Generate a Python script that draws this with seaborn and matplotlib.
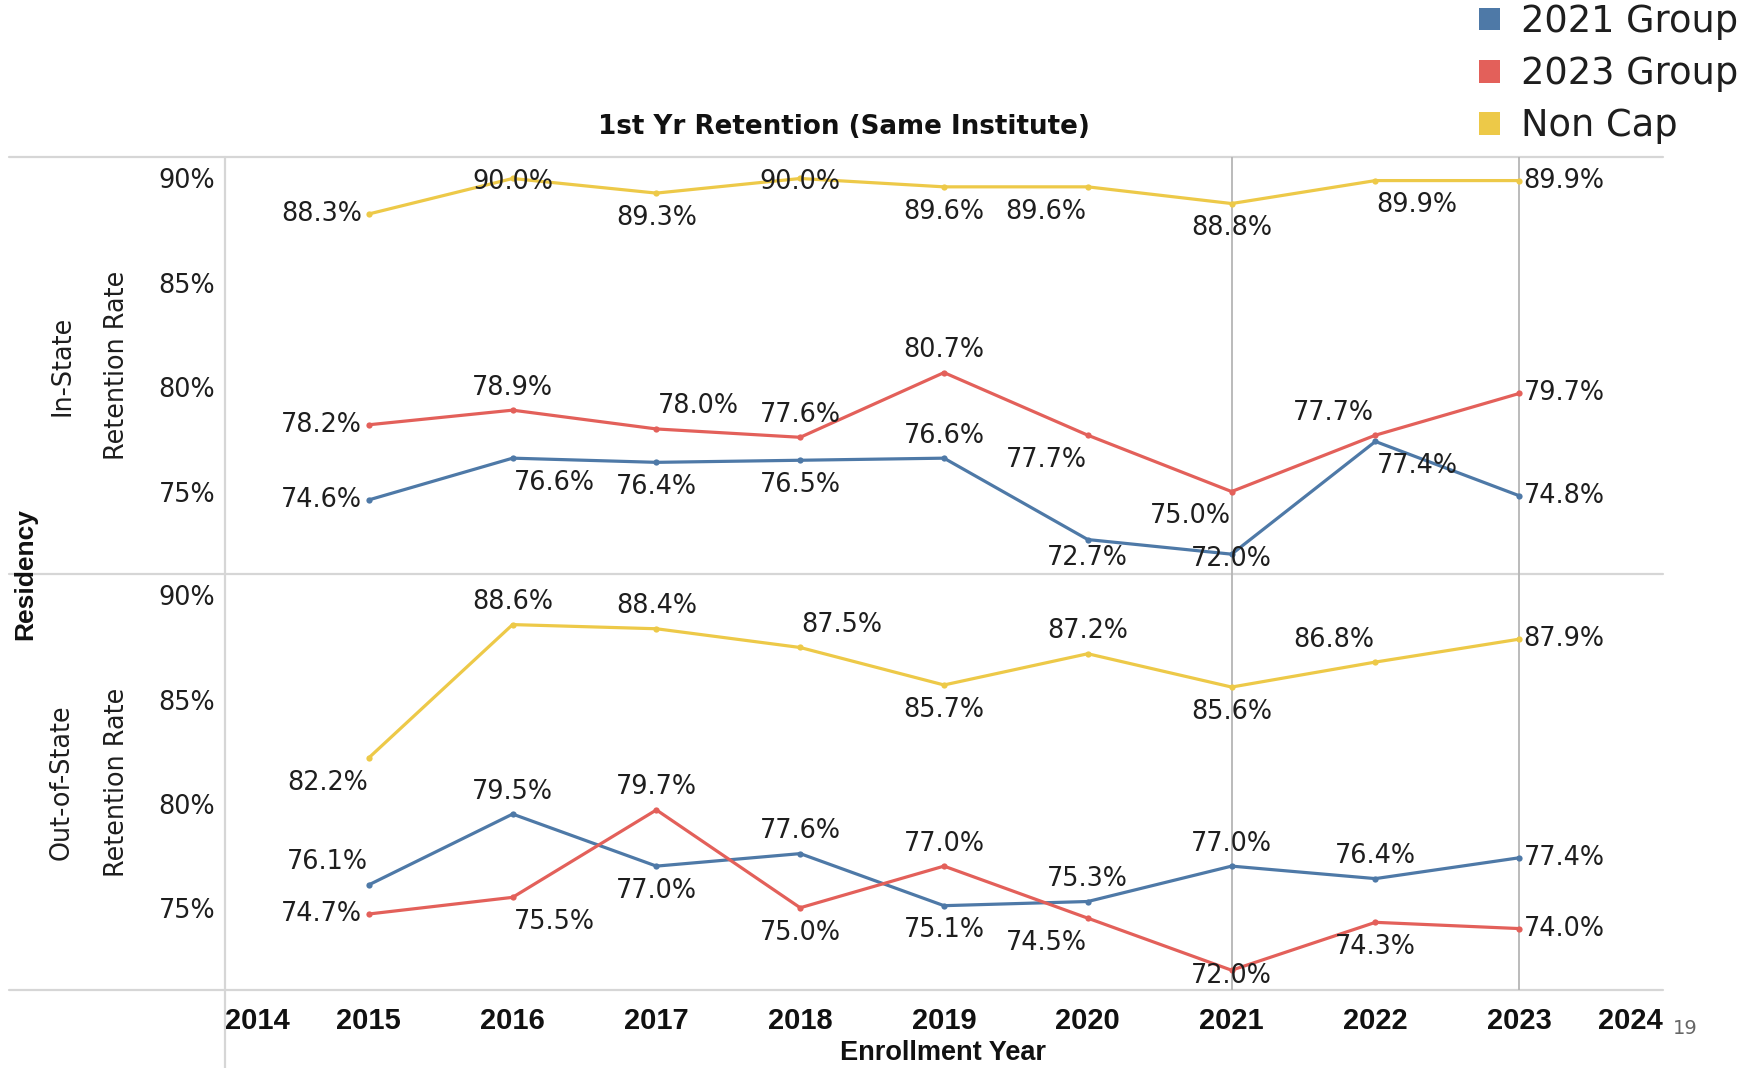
import numpy as np
import pandas as pd
import matplotlib
matplotlib.use("Agg")
import matplotlib.pyplot as plt
import seaborn as sns
from matplotlib.lines import Line2D
from matplotlib.patches import Patch

# ---------------- data ----------------
years = [2015, 2016, 2017, 2018, 2019, 2020, 2021, 2022, 2023]
groups = ["2021 Group", "2023 Group", "Non Cap"]
residency = ["In-State", "Out-of-State"]

in_state_2021 = [74.6, 76.6, 76.4, 76.5, 76.6, 72.7, 72.0, 77.4, 74.8]
in_state_2023 = [78.2, 78.9, 78.0, 77.6, 80.7, 77.7, 75.0, 77.7, 79.7]
in_state_noncap = [88.3, 90.0, 89.3, 90.0, 89.6, 89.6, 88.8, 89.9, 89.9]

out_state_2021 = [76.1, 79.5, 77.0, 77.6, 75.1, 75.3, 77.0, 76.4, 77.4]
out_state_2023 = [74.7, 75.5, 79.7, 75.0, 77.0, 74.5, 72.0, 74.3, 74.0]
out_state_noncap = [82.2, 88.6, 88.4, 87.5, 85.7, 87.2, 85.6, 86.8, 87.9]

y_ticks = [75, 80, 85, 90]
x_ticks = list(range(2014, 2025))
ref_years = [2021, 2023]

# ---------------- styles ----------------
palette = {"2021 Group": "#4e79a7", "2023 Group": "#e3605a", "Non Cap": "#edc948"}

# label placement codes (style only)
offsets = {"L": (-42, 0), "R": (40, 0), "A": (0, 20), "B": (0, -22),
           "AR": (37, 20), "AL": (-37, 20), "BR": (37, -22), "BL": (-37, -22),
           "C": (0, -3)}
placements = {
    ("In-State", "Non Cap"): ["L", "C", "B", "C", "B", "BL", "B", "BR", "R"],
    ("In-State", "2023 Group"): ["L", "A", "AR", "A", "A", "BL", "BL", "AL", "R"],
    ("In-State", "2021 Group"): ["L", "BR", "B", "B", "A", (0, -16), (0, -4), "BR", "R"],
    ("Out-of-State", "Non Cap"): ["BL", "A", "A", "AR", "B", "A", "B", "AL", "R"],
    ("Out-of-State", "2021 Group"): ["AL", "A", "B", "A", "B", "A", "A", "A", "R"],
    ("Out-of-State", "2023 Group"): ["L", "BR", "A", "B", "A", "BL", (0, -5), "B", "R"],
}

series = {
    ("In-State", "2021 Group"): in_state_2021,
    ("In-State", "2023 Group"): in_state_2023,
    ("In-State", "Non Cap"): in_state_noncap,
    ("Out-of-State", "2021 Group"): out_state_2021,
    ("Out-of-State", "2023 Group"): out_state_2023,
    ("Out-of-State", "Non Cap"): out_state_noncap,
}

rows = []
for (res, grp), vals in series.items():
    for y, v in zip(years, vals):
        rows.append({"Residency": res, "Group": grp, "Year": y, "Rate": v})
df = pd.DataFrame(rows)

sns.set_style("white")
plt.rcParams["font.family"] = ["DejaVu Sans"]

W, H = 1764, 1068
fig = plt.figure(figsize=(W / 100, H / 100), dpi=100)

x_left, x_right = 225, 1663
y_top, y_mid, y_bot = 157, 574, 990


def fx(px):
    return px / W


def fy(py):
    return 1 - py / H


ax1 = fig.add_axes([fx(x_left), fy(y_mid), fx(x_right - x_left), (y_mid - y_top) / H])
ax2 = fig.add_axes([fx(x_left), fy(y_bot), fx(x_right - x_left), (y_bot - y_mid) / H])

text_color = "#1e1e1e"
label_font = 18.4
scale = 1.125

for ax, res in zip([ax1, ax2], residency):
    sub = df[df["Residency"] == res]
    for r in ref_years:
        ax.axvline(r, color="#b5b5b5", lw=1.3, zorder=1)
    sns.lineplot(data=sub, x="Year", y="Rate", hue="Group", hue_order=groups,
                 palette=palette, marker="o", markersize=4.5, markeredgewidth=0,
                 linewidth=2.3, legend=False, ax=ax, zorder=3)
    for grp in groups:
        g = sub[sub["Group"] == grp]
        for (yr, v), code in zip(zip(g["Year"], g["Rate"]), placements[(res, grp)]):
            dx, dy = offsets[code] if isinstance(code, str) else code
            ax.annotate(f"{v:.1f}%", (yr, v), xytext=(dx * scale, dy * scale),
                        textcoords="offset pixels", ha="center", va="center",
                        fontsize=label_font, color=text_color, zorder=5,
                        annotation_clip=False)
    ax.set_xlim(2014, 2024)
    ax.set_ylim(71.05, 91.03)
    ax.set_yticks(y_ticks)
    ax.set_yticklabels([f"{t}%" for t in y_ticks], fontsize=label_font, color=text_color)
    ax.tick_params(axis="y", length=0, pad=7)
    ax.set_xlabel("")
    ax.set_ylabel("")
    for s in ax.spines.values():
        s.set_visible(False)
    ax.set_facecolor("none")

ax1.set_xticks([])
ax2.set_xticks(x_ticks)
ax2.set_xticklabels([str(t) for t in x_ticks], fontsize=21, fontweight="bold",
                    family="Liberation Sans", color="#111111")
ax2.tick_params(axis="x", length=4, width=1.2, color="#7a7a7a", pad=8)
xt = ax2.get_xticklabels()
xt[0].set_ha("left")
xt[-1].set_ha("right")
majors = ax2.xaxis.get_major_ticks()
majors[0].tick1line.set_visible(False)
majors[-1].tick1line.set_visible(False)

# table borders
grid_c = "#d6d6d6"
for py in [y_top, y_mid, y_bot]:
    fig.add_artist(Line2D([fx(9), fx(x_right)], [fy(py), fy(py)], color=grid_c, lw=1.6, zorder=0))
fig.add_artist(Line2D([fx(x_left), fx(x_left)], [fy(y_top), 0], color=grid_c, lw=1.6, zorder=0))

# row headers
for res, (top, bot) in zip(residency, [(y_top, y_mid), (y_mid, y_bot)]):
    yc = fy((top + bot) / 2)
    fig.text(fx(62), yc, res, rotation=90, ha="center", va="center",
             fontsize=label_font, color=text_color)
    fig.text(fx(117), yc, "Retention Rate", rotation=90, ha="center", va="center",
             fontsize=label_font, color=text_color)
fig.text(fx(25), fy(y_mid), "Residency", rotation=90, ha="center", va="center",
         fontsize=19, fontweight="bold", family="Liberation Sans", color="#111111")

# title and axis title
fig.text(fx(844), fy(127), "1st Yr Retention (Same Institute)", ha="center", va="center",
         fontsize=18.8, fontweight="bold", color="#111111")
fig.text(fx(943), fy(1053), "Enrollment Year", ha="center", va="center",
         fontsize=19.5, fontweight="bold", family="Liberation Sans", color="#111111")

# page number
fig.text(fx(1685), fy(1028), "19", ha="center", va="center", fontsize=14, color="#666666")

# legend
handles = [Patch(facecolor=palette[g], edgecolor="none") for g in groups]
fig.legend(handles, groups, loc="upper left", bbox_to_anchor=(fx(1479), fy(3)),
           frameon=False, fontsize=26.5, handlelength=0.58, handleheight=0.58,
           handletextpad=0.55, labelspacing=0.41, borderpad=0, borderaxespad=0,
           labelcolor=text_color)

fig.savefig("out.png", dpi=100)
